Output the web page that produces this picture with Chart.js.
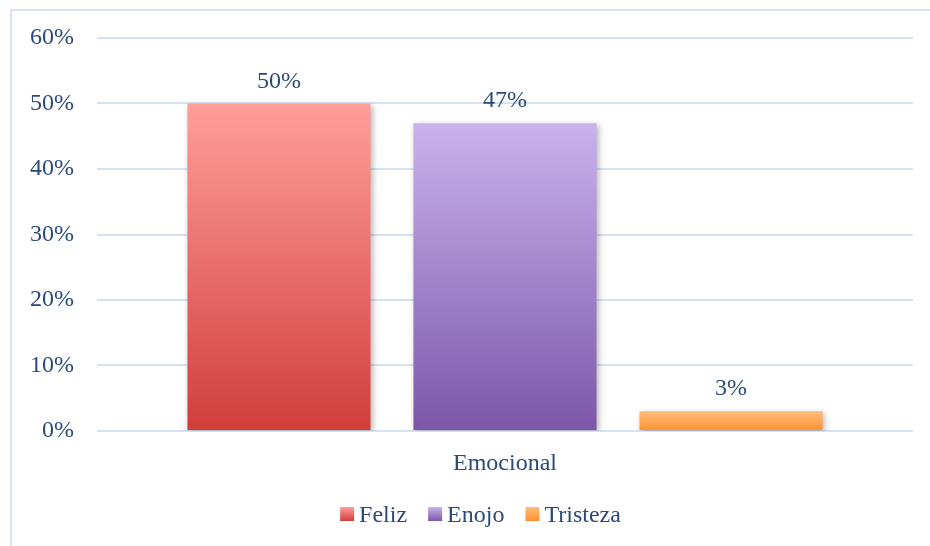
<!DOCTYPE html>
<html><head><meta charset="utf-8">
<script src="https://cdn.jsdelivr.net/npm/chart.js@4/dist/chart.umd.min.js"></script>
<style>html,body{margin:0;padding:0;background:#fff}#wrap{width:930px;height:546px;position:relative}</style>
</head><body><div id="wrap"><canvas id="c" width="930" height="546"></canvas></div>
<script>
const categories = ["Emocional"];
const seriesNames = ["Feliz", "Enojo", "Tristeza"];
const feliz = [0.50];
const enojo = [0.47];
const tristeza = [0.03];
const yTicks = [0, 0.1, 0.2, 0.3, 0.4, 0.5, 0.6];

const FONT = "'Liberation Serif', 'DejaVu Serif', serif";
const FS = 24;
const TXT = "#2b4a7a";
const gradStops = [["#ff9e9b", "#d03e3b"], ["#c9b2ee", "#7d56a8"], ["#ffbd7c", "#ff922f"]];

function grad(idx) {
  return function(ctx) {
    const chart = ctx.chart;
    const ys = chart.scales && chart.scales.y;
    if (!chart.chartArea || !ys) return gradStops[idx][1];
    const v = ctx.raw;
    const top = ys.getPixelForValue(v), bot = ys.getPixelForValue(0);
    if (!isFinite(top) || !isFinite(bot) || top === bot) return gradStops[idx][1];
    const g = chart.ctx.createLinearGradient(0, top, 0, bot);
    g.addColorStop(0, gradStops[idx][0]);
    g.addColorStop(1, gradStops[idx][1]);
    return g;
  };
}

const framePlugin = {
  id: 'frame',
  beforeDraw(chart) {
    const c = chart.ctx;
    c.save();
    c.strokeStyle = "#d6e2f2";
    c.lineWidth = 2;
    c.beginPath();
    c.moveTo(11, 560); c.lineTo(11, 10); c.lineTo(940, 10);
    c.stroke();
    c.restore();
  }
};
const shadowPlugin = {
  id: 'shadow',
  beforeDatasetsDraw(chart) { const c = chart.ctx; c.save(); c.shadowColor = "rgba(0,0,0,0.28)"; c.shadowBlur = 6; c.shadowOffsetX = 2; c.shadowOffsetY = 2; },
  afterDatasetsDraw(chart) { chart.ctx.restore(); }
};
const labelPlugin = {
  id: 'vlabels',
  afterDatasetsDraw(chart) {
    const c = chart.ctx;
    c.save();
    c.font = FS + "px " + FONT;
    c.fillStyle = TXT;
    c.textAlign = "center";
    c.textBaseline = "alphabetic";
    chart.data.datasets.forEach((ds, i) => {
      const meta = chart.getDatasetMeta(i);
      meta.data.forEach((el, j) => {
        c.fillText(Math.round(ds.data[j] * 100) + "%", el.x, el.y - 16);
      });
    });
    c.restore();
  }
};
const legendPlugin = {
  id: 'customLegend',
  afterDraw(chart) {
    const c = chart.ctx;
    c.save();
    c.font = FS + "px " + FONT;
    const box = 14, gapBT = 5, gapItem = 21;
    const items = chart.data.datasets.map((ds, i) => ({ text: ds.label, w: c.measureText(ds.label).width, i }));
    let total = items.reduce((s, it) => s + box + gapBT + it.w, 0) + gapItem * (items.length - 1);
    let x = 480.5 - total / 2;
    const baseline = 522, boxTop = 507;
    items.forEach(it => {
      const g = c.createLinearGradient(0, boxTop, 0, boxTop + box);
      g.addColorStop(0, gradStops[it.i][0]);
      g.addColorStop(1, gradStops[it.i][1]);
      c.fillStyle = g;
      c.fillRect(x, boxTop, box, box);
      x += box + gapBT;
      c.fillStyle = TXT;
      c.textAlign = "left";
      c.textBaseline = "alphabetic";
      c.fillText(it.text, x, baseline);
      x += it.w + gapItem;
    });
    c.restore();
  }
};

new Chart(document.getElementById('c'), {
  type: 'bar',
  data: {
    labels: categories,
    datasets: [
      { label: seriesNames[0], data: feliz, backgroundColor: grad(0) },
      { label: seriesNames[1], data: enojo, backgroundColor: grad(1) },
      { label: seriesNames[2], data: tristeza, backgroundColor: grad(2) }
    ]
  },
  options: {
    responsive: false,
    animation: false,
    devicePixelRatio: 1,
    categoryPercentage: 0.831,
    barPercentage: 0.81,
    layout: { padding: { top: 38, right: 17, left: 0, bottom: 60 } },
    plugins: {
      tooltip: { enabled: false },
      legend: { display: false }
    },
    scales: {
      x: {
        grid: { display: false, drawTicks: false },
        border: { display: false },
        ticks: { font: { family: FONT, size: FS }, color: TXT, padding: 18 },
        afterFit(s) { s.height = 55; }
      },
      y: {
        min: 0, max: 0.6,
        afterBuildTicks(s) { s.ticks = yTicks.map(v => ({ value: v })); },
        grid: { color: "#d6e2f2", lineWidth: 2, drawTicks: false },
        border: { display: false },
        ticks: { font: { family: FONT, size: FS }, color: TXT, padding: 23, callback: v => Math.round(v * 100) + "%" },
        afterFit(s) { s.width = 97; }
      }
    }
  },
  plugins: [framePlugin, shadowPlugin, labelPlugin, legendPlugin]
});
</script></body></html>
